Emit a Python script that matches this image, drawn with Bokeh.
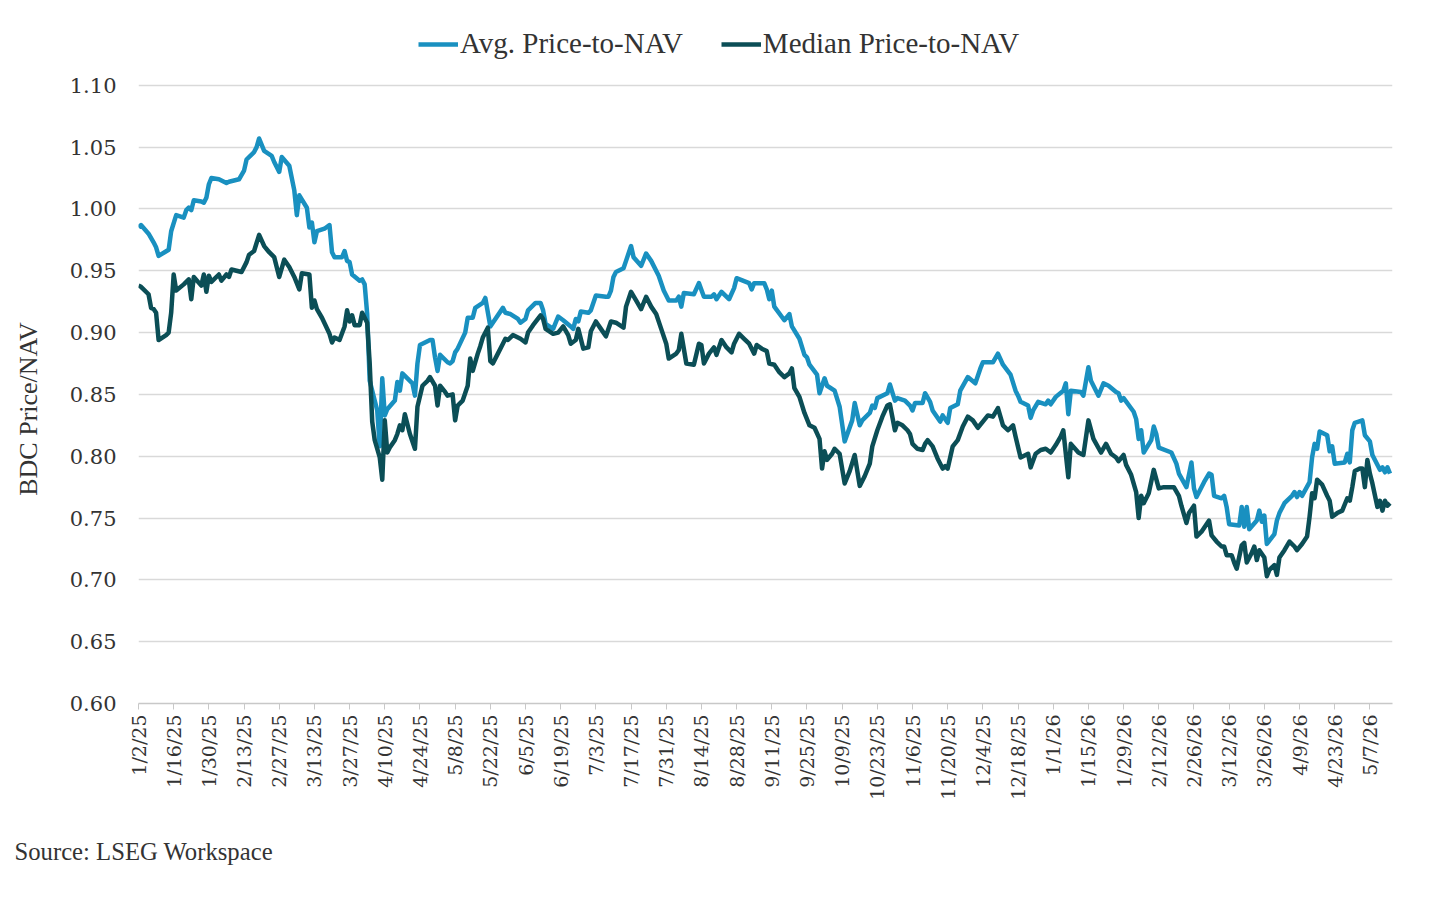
import pandas as pd
from math import pi

from bokeh.plotting import figure
from bokeh.models import FixedTicker, Legend, LegendItem, Title, Range1d
from bokeh.embed import file_html
from bokeh.resources import INLINE

# values (daily BDC price / NAV)
avg_dates = [
    "1/2/25", "1/3/25", "1/6/25", "1/8/25", "1/9/25", "1/10/25", "1/14/25", "1/15/25", "1/17/25", "1/20/25",
    "1/21/25", "1/22/25", "1/23/25", "1/24/25", "1/27/25", "1/28/25", "1/29/25", "1/30/25", "1/31/25",
    "2/3/25", "2/6/25", "2/7/25", "2/11/25", "2/13/25", "2/14/25", "2/17/25", "2/18/25", "2/19/25", "2/21/25",
    "2/24/25", "2/25/25", "2/27/25", "2/28/25",
    "3/3/25", "3/5/25", "3/6/25", "3/7/25", "3/10/25", "3/11/25", "3/12/25", "3/13/25", "3/14/25", "3/17/25",
    "3/19/25", "3/20/25", "3/21/25", "3/24/25", "3/25/25", "3/26/25", "3/27/25", "3/28/25", "3/31/25",
    "4/1/25", "4/2/25", "4/3/25", "4/4/25", "4/7/25", "4/8/25", "4/9/25", "4/10/25", "4/11/25", "4/14/25",
    "4/15/25", "4/16/25", "4/17/25", "4/21/25", "4/22/25", "4/23/25", "4/24/25", "4/28/25", "4/29/25", "4/30/25",
    "5/1/25", "5/2/25", "5/5/25", "5/6/25", "5/7/25", "5/8/25", "5/9/25", "5/12/25", "5/13/25", "5/15/25",
    "5/16/25", "5/19/25", "5/20/25", "5/22/25", "5/23/25", "5/27/25", "5/28/25", "5/30/25",
    "6/2/25", "6/3/25", "6/5/25", "6/6/25", "6/9/25", "6/11/25", "6/12/25", "6/13/25", "6/16/25", "6/18/25",
    "6/20/25", "6/23/25", "6/24/25", "6/25/25", "6/26/25", "6/27/25", "6/30/25",
    "7/1/25", "7/3/25", "7/7/25", "7/8/25", "7/9/25", "7/10/25", "7/11/25", "7/14/25", "7/15/25", "7/17/25",
    "7/18/25", "7/21/25", "7/23/25", "7/25/25", "7/28/25", "7/30/25",
    "8/1/25", "8/4/25", "8/5/25", "8/6/25", "8/7/25", "8/11/25", "8/13/25", "8/15/25", "8/18/25", "8/19/25",
    "8/20/25", "8/22/25", "8/25/25", "8/27/25", "8/28/25",
    "9/2/25", "9/3/25", "9/4/25", "9/8/25", "9/9/25", "9/10/25", "9/11/25", "9/12/25", "9/16/25", "9/18/25",
    "9/19/25", "9/22/25", "9/24/25", "9/25/25", "9/26/25", "9/29/25", "9/30/25",
    "10/2/25", "10/3/25", "10/6/25", "10/8/25", "10/10/25", "10/13/25", "10/14/25", "10/16/25", "10/17/25",
    "10/20/25", "10/21/25", "10/22/25", "10/23/25", "10/27/25", "10/28/25", "10/30/25", "10/31/25",
    "11/3/25", "11/5/25", "11/6/25", "11/7/25", "11/10/25", "11/11/25", "11/13/25", "11/14/25", "11/17/25",
    "11/18/25", "11/20/25", "11/21/25", "11/24/25", "11/25/25", "11/28/25",
    "12/1/25", "12/3/25", "12/4/25", "12/8/25", "12/10/25", "12/12/25", "12/15/25", "12/17/25", "12/18/25",
    "12/19/25", "12/22/25", "12/23/25", "12/24/25", "12/26/25", "12/29/25", "12/30/25", "12/31/25",
    "1/2/26", "1/5/26", "1/6/26", "1/7/26", "1/8/26", "1/12/26", "1/13/26", "1/15/26", "1/16/26", "1/19/26",
    "1/21/26", "1/23/26", "1/26/26", "1/27/26", "1/28/26", "1/29/26",
    "2/2/26", "2/3/26", "2/4/26", "2/5/26", "2/6/26", "2/9/26", "2/10/26", "2/11/26", "2/12/26", "2/17/26",
    "2/19/26", "2/20/26", "2/23/26", "2/25/26", "2/26/26", "2/27/26",
    "3/2/26", "3/4/26", "3/5/26", "3/6/26", "3/9/26", "3/10/26", "3/11/26", "3/12/26", "3/16/26", "3/17/26",
    "3/18/26", "3/19/26", "3/20/26", "3/23/26", "3/24/26", "3/25/26", "3/26/26", "3/27/26", "3/30/26", "3/31/26",
    "4/1/26", "4/3/26", "4/6/26", "4/7/26", "4/8/26", "4/9/26", "4/10/26", "4/13/26", "4/14/26", "4/15/26",
    "4/16/26", "4/17/26", "4/20/26", "4/21/26", "4/22/26", "4/23/26", "4/27/26", "4/28/26", "4/29/26", "4/30/26",
    "5/1/26", "5/4/26", "5/5/26", "5/7/26", "5/8/26", "5/11/26", "5/12/26", "5/13/26", "5/14/26", "5/15/26",
]
avg_vals = [
    0.985, 0.987, 0.980, 0.973, 0.969, 0.962, 0.967, 0.982, 0.995, 0.993,
    0.999, 1.001, 0.999, 1.007, 1.006, 1.005, 1.009, 1.020, 1.025,
    1.024, 1.021, 1.022, 1.024, 1.031, 1.040, 1.046, 1.050, 1.057, 1.047,
    1.043, 1.038, 1.030, 1.042,
    1.035, 1.015, 0.995, 1.011, 1.001, 0.985, 0.989, 0.973, 0.982, 0.984,
    0.987, 0.965, 0.961, 0.961, 0.966, 0.958, 0.957, 0.947, 0.942,
    0.943, 0.939, 0.915, 0.861, 0.837, 0.808, 0.863, 0.833, 0.838, 0.845,
    0.860, 0.853, 0.867, 0.859, 0.849, 0.875, 0.890, 0.894, 0.894, 0.880,
    0.869, 0.882, 0.876, 0.875, 0.877, 0.884, 0.887, 0.900, 0.912, 0.912,
    0.920, 0.924, 0.928, 0.905, 0.908, 0.920, 0.916, 0.915,
    0.911, 0.908, 0.911, 0.918, 0.924, 0.924, 0.918, 0.907, 0.903, 0.913,
    0.910, 0.905, 0.903, 0.911, 0.909, 0.917, 0.916,
    0.918, 0.930, 0.929, 0.929, 0.934, 0.945, 0.949, 0.952, 0.958, 0.970,
    0.961, 0.954, 0.964, 0.958, 0.946, 0.934,
    0.926, 0.926, 0.929, 0.921, 0.932, 0.931, 0.940, 0.929, 0.929, 0.931,
    0.927, 0.933, 0.927, 0.936, 0.944,
    0.940, 0.935, 0.940, 0.940, 0.935, 0.927, 0.934, 0.921, 0.910, 0.915,
    0.905, 0.895, 0.882, 0.880, 0.874, 0.866, 0.851,
    0.863, 0.857, 0.853, 0.840, 0.812, 0.829, 0.843, 0.825, 0.829,
    0.835, 0.841, 0.839, 0.847, 0.851, 0.858, 0.845, 0.847,
    0.845, 0.841, 0.837, 0.843, 0.843, 0.851, 0.844, 0.837, 0.828,
    0.833, 0.827, 0.839, 0.842, 0.853, 0.864,
    0.859, 0.871, 0.876, 0.876, 0.883, 0.874, 0.866, 0.853, 0.849,
    0.844, 0.841, 0.831, 0.837, 0.844, 0.842, 0.845, 0.842,
    0.848, 0.853, 0.859, 0.834, 0.853, 0.852, 0.849, 0.872, 0.861, 0.849,
    0.859, 0.857, 0.852, 0.851, 0.845, 0.847,
    0.836, 0.830, 0.814, 0.821, 0.803, 0.813, 0.824, 0.818, 0.807, 0.803,
    0.794, 0.786, 0.775, 0.795, 0.774, 0.767,
    0.779, 0.786, 0.785, 0.768, 0.766, 0.768, 0.759, 0.745, 0.744, 0.759,
    0.743, 0.759, 0.741, 0.748, 0.756, 0.747, 0.752, 0.729, 0.737, 0.748,
    0.754, 0.762, 0.768, 0.771, 0.767, 0.771, 0.768, 0.779, 0.799, 0.810,
    0.806, 0.820, 0.817, 0.804, 0.808, 0.794, 0.795, 0.802, 0.795, 0.821,
    0.827, 0.829, 0.817, 0.812, 0.801, 0.789, 0.791, 0.787, 0.791, 0.786,
]

med_dates = [
    "1/2/25", "1/3/25", "1/6/25", "1/7/25", "1/8/25", "1/9/25", "1/10/25", "1/13/25", "1/14/25", "1/15/25",
    "1/16/25", "1/17/25", "1/20/25", "1/22/25", "1/23/25", "1/24/25", "1/27/25", "1/28/25", "1/29/25", "1/30/25",
    "1/31/25",
    "2/3/25", "2/4/25", "2/6/25", "2/7/25", "2/8/25", "2/10/25", "2/12/25", "2/14/25", "2/15/25", "2/17/25",
    "2/19/25", "2/21/25", "2/23/25", "2/25/25", "2/27/25",
    "3/1/25", "3/3/25", "3/5/25", "3/7/25", "3/8/25", "3/11/25", "3/12/25", "3/13/25", "3/14/25", "3/16/25",
    "3/19/25", "3/20/25", "3/21/25", "3/23/25", "3/25/25", "3/26/25", "3/27/25", "3/28/25", "3/29/25", "3/31/25",
    "4/1/25", "4/3/25", "4/4/25", "4/5/25", "4/6/25", "4/8/25", "4/9/25", "4/10/25", "4/11/25", "4/12/25",
    "4/14/25", "4/15/25", "4/16/25", "4/17/25", "4/18/25", "4/20/25", "4/22/25", "4/23/25", "4/25/25", "4/27/25",
    "4/28/25", "4/30/25",
    "5/1/25", "5/2/25", "5/4/25", "5/5/25", "5/7/25", "5/8/25", "5/9/25", "5/11/25", "5/13/25", "5/14/25",
    "5/15/25", "5/17/25", "5/18/25", "5/19/25", "5/21/25", "5/22/25", "5/23/25", "5/25/25", "5/27/25", "5/28/25",
    "5/29/25", "5/31/25",
    "6/2/25", "6/3/25", "6/5/25", "6/6/25", "6/8/25", "6/11/25", "6/12/25", "6/13/25", "6/16/25", "6/18/25",
    "6/20/25", "6/22/25", "6/23/25", "6/25/25", "6/26/25", "6/28/25", "6/30/25",
    "7/1/25", "7/3/25", "7/5/25", "7/7/25", "7/9/25", "7/11/25", "7/14/25", "7/15/25", "7/17/25", "7/19/25",
    "7/21/25", "7/23/25", "7/25/25", "7/27/25", "7/29/25", "7/31/25",
    "8/1/25", "8/4/25", "8/5/25", "8/6/25", "8/8/25", "8/11/25", "8/13/25", "8/14/25", "8/15/25", "8/17/25",
    "8/19/25", "8/20/25", "8/22/25", "8/24/25", "8/26/25", "8/27/25", "8/29/25", "8/31/25",
    "9/2/25", "9/4/25", "9/5/25", "9/7/25", "9/9/25", "9/10/25", "9/12/25", "9/14/25", "9/16/25", "9/18/25",
    "9/19/25", "9/20/25", "9/22/25", "9/24/25", "9/26/25", "9/28/25", "9/30/25",
    "10/1/25", "10/2/25", "10/3/25", "10/5/25", "10/6/25", "10/8/25", "10/10/25", "10/12/25", "10/14/25",
    "10/16/25", "10/18/25", "10/20/25", "10/21/25", "10/23/25", "10/25/25", "10/27/25", "10/28/25", "10/30/25",
    "10/31/25",
    "11/2/25", "11/4/25", "11/5/25", "11/6/25", "11/8/25", "11/10/25", "11/11/25", "11/12/25", "11/14/25",
    "11/16/25", "11/18/25", "11/19/25", "11/20/25", "11/22/25", "11/24/25", "11/26/25", "11/28/25", "11/30/25",
    "12/2/25", "12/4/25", "12/6/25", "12/8/25", "12/10/25", "12/12/25", "12/14/25", "12/16/25", "12/17/25",
    "12/19/25", "12/21/25", "12/22/25", "12/23/25", "12/25/25", "12/27/25", "12/29/25", "12/31/25",
    "1/2/26", "1/4/26", "1/5/26", "1/7/26", "1/8/26", "1/11/26", "1/13/26", "1/15/26", "1/17/26", "1/20/26",
    "1/22/26", "1/24/26", "1/26/26", "1/27/26", "1/29/26", "1/30/26",
    "2/1/26", "2/3/26", "2/4/26", "2/5/26", "2/6/26", "2/8/26", "2/10/26", "2/12/26", "2/14/26", "2/18/26",
    "2/20/26", "2/21/26", "2/23/26", "2/24/26", "2/26/26", "2/27/26",
    "3/1/26", "3/3/26", "3/4/26", "3/5/26", "3/7/26", "3/9/26", "3/10/26", "3/11/26", "3/13/26", "3/14/26",
    "3/15/26", "3/17/26", "3/18/26", "3/19/26", "3/21/26", "3/22/26", "3/23/26", "3/24/26", "3/26/26", "3/27/26",
    "3/28/26", "3/30/26", "3/31/26",
    "4/1/26", "4/3/26", "4/5/26", "4/7/26", "4/8/26", "4/10/26", "4/12/26", "4/13/26", "4/14/26", "4/15/26",
    "4/16/26", "4/18/26", "4/20/26", "4/21/26", "4/22/26", "4/24/26", "4/26/26", "4/28/26", "4/29/26", "4/30/26",
    "5/1/26", "5/3/26", "5/4/26", "5/5/26", "5/6/26", "5/7/26", "5/8/26", "5/10/26", "5/11/26", "5/12/26",
    "5/13/26", "5/14/26", "5/15/26",
]
med_vals = [
    0.938, 0.937, 0.931, 0.920, 0.919, 0.916, 0.894, 0.898, 0.900, 0.916,
    0.947, 0.934, 0.939, 0.943, 0.927, 0.945, 0.938, 0.947, 0.933, 0.946,
    0.941,
    0.947, 0.942, 0.947, 0.945, 0.951, 0.950, 0.949, 0.957, 0.963, 0.966,
    0.979, 0.970, 0.965, 0.961, 0.945,
    0.959, 0.953, 0.945, 0.935, 0.948, 0.947, 0.920, 0.926, 0.919, 0.912,
    0.899, 0.892, 0.896, 0.894, 0.905, 0.918, 0.909, 0.914, 0.906, 0.906,
    0.916, 0.908, 0.875, 0.828, 0.813, 0.799, 0.781, 0.829, 0.803, 0.807,
    0.813, 0.818, 0.825, 0.821, 0.834, 0.818, 0.806, 0.840, 0.857, 0.861,
    0.864, 0.857,
    0.841, 0.857, 0.852, 0.849, 0.850, 0.829, 0.841, 0.845, 0.857, 0.879,
    0.869, 0.883, 0.889, 0.896, 0.904, 0.877, 0.875, 0.883, 0.891, 0.895,
    0.894, 0.898,
    0.896, 0.895, 0.892, 0.900, 0.906, 0.914, 0.911, 0.903, 0.899, 0.900,
    0.905, 0.898, 0.891, 0.894, 0.903, 0.887, 0.888,
    0.901, 0.909, 0.903, 0.897, 0.909, 0.908, 0.904, 0.921, 0.933, 0.926,
    0.919, 0.929, 0.921, 0.915, 0.903, 0.891,
    0.879, 0.883, 0.886, 0.899, 0.875, 0.874, 0.891, 0.890, 0.875, 0.883,
    0.888, 0.882, 0.894, 0.888, 0.884, 0.891, 0.899, 0.895,
    0.891, 0.883, 0.890, 0.887, 0.885, 0.875, 0.874, 0.868, 0.864, 0.867,
    0.871, 0.855, 0.848, 0.835, 0.825, 0.823, 0.814,
    0.790, 0.804, 0.797, 0.802, 0.806, 0.802, 0.778, 0.788, 0.801,
    0.776, 0.784, 0.794, 0.808, 0.821, 0.832, 0.841, 0.842, 0.821,
    0.827,
    0.825, 0.821, 0.818, 0.810, 0.806, 0.805, 0.810, 0.813, 0.808,
    0.798, 0.790, 0.792, 0.790, 0.808, 0.813, 0.824, 0.832, 0.829,
    0.823, 0.828, 0.833, 0.832, 0.839, 0.825, 0.821, 0.825, 0.816,
    0.799, 0.801, 0.802, 0.791, 0.802, 0.805, 0.806, 0.803,
    0.809, 0.816, 0.821, 0.783, 0.810, 0.803, 0.801, 0.829, 0.814, 0.803,
    0.810, 0.802, 0.799, 0.796, 0.801, 0.793,
    0.785, 0.771, 0.750, 0.768, 0.762, 0.770, 0.789, 0.774, 0.775, 0.775,
    0.768, 0.760, 0.746, 0.754, 0.760, 0.735,
    0.739, 0.745, 0.748, 0.736, 0.731, 0.727, 0.727, 0.720, 0.720, 0.714,
    0.709, 0.728, 0.730, 0.714, 0.722, 0.727, 0.716, 0.724, 0.718, 0.703,
    0.708, 0.712, 0.704,
    0.718, 0.724, 0.731, 0.727, 0.724, 0.729, 0.735, 0.751, 0.770, 0.766,
    0.781, 0.777, 0.768, 0.764, 0.751, 0.754, 0.756, 0.766, 0.764, 0.775,
    0.788, 0.790, 0.790, 0.775, 0.797, 0.786, 0.778, 0.759, 0.764, 0.756,
    0.764, 0.760, 0.762,
]

tick_labels = [
    "1/2/25", "1/16/25", "1/30/25", "2/13/25", "2/27/25", "3/13/25", "3/27/25", "4/10/25", "4/24/25",
    "5/8/25", "5/22/25", "6/5/25", "6/19/25", "7/3/25", "7/17/25", "7/31/25", "8/14/25", "8/28/25",
    "9/11/25", "9/25/25", "10/9/25", "10/23/25", "11/6/25", "11/20/25", "12/4/25", "12/18/25",
    "1/1/26", "1/15/26", "1/29/26", "2/12/26", "2/26/26", "3/12/26", "3/26/26", "4/9/26", "4/23/26", "5/7/26",
]
y_ticks = [0.60, 0.65, 0.70, 0.75, 0.80, 0.85, 0.90, 0.95, 1.00, 1.05, 1.10]

avg_color = "#1990c0"
med_color = "#0b4e56"
txt_color = "#333333"


def to_dt(lst):
    return pd.to_datetime(lst, format="%m/%d/%y")


tick_ms = [int(t.value // 10**6) for t in to_dt(tick_labels)]

# the frame reaches up to 1.15 so the legend can sit inside it, above the 1.10 gridline
p = figure(width=1424, height=883, x_axis_type="datetime",
           x_range=Range1d(to_dt(["1/2/25"])[0], to_dt(["5/16/26"])[0]),
           y_range=Range1d(0.60, 1.15),
           output_backend="svg", toolbar_location=None,
           min_border_left=138, min_border_right=32,
           min_border_top=23, min_border_bottom=180)
p.outline_line_color = None
p.background_fill_color = "white"

r_avg = p.line(to_dt(avg_dates), avg_vals, line_color=avg_color, line_width=4.5, line_join="round")
r_med = p.line(to_dt(med_dates), med_vals, line_color=med_color, line_width=4.5, line_join="round")

# x axis
p.xaxis.ticker = FixedTicker(ticks=tick_ms)
p.xaxis.major_label_overrides = {float(ms): lab for ms, lab in zip(tick_ms, tick_labels)}
p.xaxis.major_label_orientation = pi / 2
p.xaxis.major_label_text_font = "DejaVu Serif"
p.xaxis.major_label_text_font_size = "19px"
p.xaxis.major_label_text_color = txt_color
p.xaxis.major_label_standoff = 5
p.xaxis.axis_line_color = "#c8c8c8"
p.xaxis.axis_line_width = 1.5
p.xaxis.major_tick_line_color = "#c8c8c8"
p.xaxis.major_tick_out = 6
p.xaxis.major_tick_in = 0
p.xaxis.minor_tick_line_color = None
p.xgrid.grid_line_color = None

# y axis
p.yaxis.ticker = FixedTicker(ticks=y_ticks)
p.yaxis.major_label_overrides = {v: f"{v:.2f}" for v in y_ticks}
p.yaxis.major_label_text_font = "DejaVu Serif"
p.yaxis.major_label_text_font_size = "21px"
p.yaxis.major_label_text_color = txt_color
p.yaxis.major_label_standoff = 16
p.yaxis.axis_line_color = None
p.yaxis.major_tick_line_color = None
p.yaxis.minor_tick_line_color = None
# trailing no-break spaces push the visible title down to the middle of the 0.60-1.10 span
p.yaxis.axis_label = "BDC Price/NAV" + "\u00a0" * 14
p.yaxis.axis_label_text_font = "Liberation Serif"
p.yaxis.axis_label_text_font_size = "26px"
p.yaxis.axis_label_text_font_style = "normal"
p.yaxis.axis_label_text_color = txt_color
p.yaxis.axis_label_standoff = 24
p.ygrid.grid_line_color = "#d9d9d9"
p.ygrid.grid_line_width = 1.3

legend = Legend(items=[LegendItem(label="Avg. Price-to-NAV", renderers=[r_avg]),
                       LegendItem(label="Median Price-to-NAV", renderers=[r_med])],
                orientation="horizontal", location=(280, 643),
                glyph_width=40, glyph_height=30, label_standoff=2, spacing=38,
                padding=0, margin=0, border_line_color=None, background_fill_alpha=0,
                label_text_font="Liberation Serif", label_text_font_size="29px",
                label_text_color=txt_color)
p.add_layout(legend, "center")

# blank spacer title, then the source note
p.add_layout(Title(text=" ", text_font_size="24px", standoff=4), "below")
p.add_layout(Title(text="Source: LSEG Workspace", align="left", offset=-124, standoff=0,
                   text_font="Liberation Serif", text_font_size="24.7px",
                   text_font_style="normal", text_color=txt_color), "below")

open("out.html", "w").write(file_html(p, INLINE))
